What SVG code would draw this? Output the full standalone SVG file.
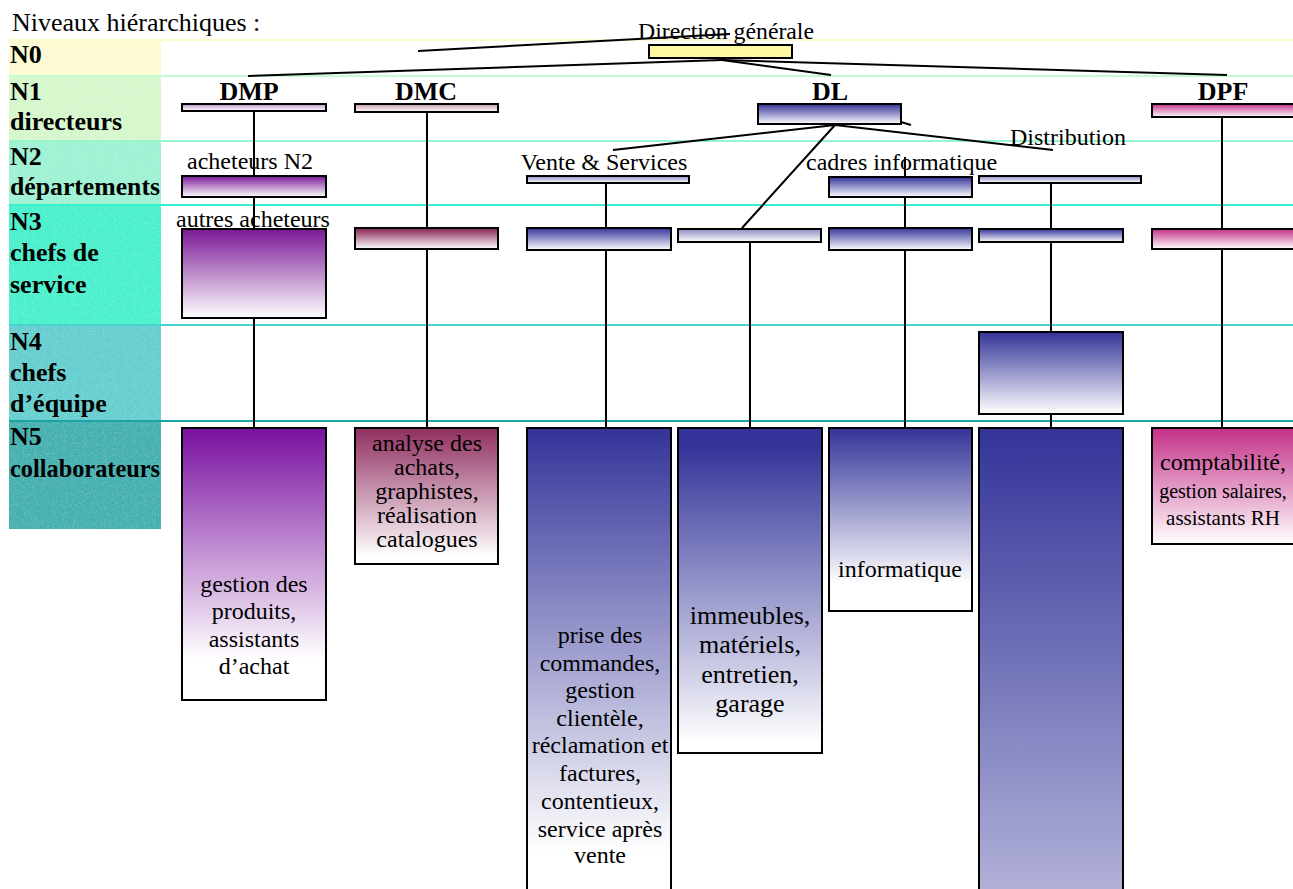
<svg xmlns="http://www.w3.org/2000/svg" width="1293" height="889" viewBox="0 0 1293 889">
<defs>
<linearGradient id="gPurple" x1="0" y1="0" x2="0" y2="1"><stop offset="0" stop-color="#7a1896"/><stop offset="1" stop-color="#ffffff"/></linearGradient>
<linearGradient id="gPurpleN5" x1="0" y1="0" x2="0" y2="1"><stop offset="0" stop-color="#7a10a0"/><stop offset="0.85" stop-color="#ffffff"/></linearGradient>
<linearGradient id="gPalePurple" x1="0" y1="0" x2="0" y2="1"><stop offset="0" stop-color="#b898cc"/><stop offset="1" stop-color="#ffffff"/></linearGradient>
<linearGradient id="gPalePink" x1="0" y1="0" x2="0" y2="1"><stop offset="0" stop-color="#c89aa8"/><stop offset="1" stop-color="#ffffff"/></linearGradient>
<linearGradient id="gMaroon" x1="0" y1="0" x2="0" y2="1"><stop offset="0" stop-color="#842050"/><stop offset="1" stop-color="#ffffff"/></linearGradient>
<linearGradient id="gMaroonN5" x1="0" y1="0" x2="0" y2="1"><stop offset="0" stop-color="#902e60"/><stop offset="0.95" stop-color="#ffffff"/></linearGradient>
<linearGradient id="gBlue" x1="0" y1="0" x2="0" y2="1"><stop offset="0" stop-color="#333399"/><stop offset="1" stop-color="#ffffff"/></linearGradient>
<linearGradient id="gPaleBlue" x1="0" y1="0" x2="0" y2="1"><stop offset="0" stop-color="#8c8cc4"/><stop offset="1" stop-color="#ffffff"/></linearGradient>
<linearGradient id="gBlueVente" x1="0" y1="0" x2="0" y2="1"><stop offset="0" stop-color="#333399"/><stop offset="0.9" stop-color="#ffffff"/></linearGradient>
<linearGradient id="gBlueMat" x1="0" y1="0" x2="0" y2="1"><stop offset="0" stop-color="#333399"/><stop offset="0.05" stop-color="#333399"/><stop offset="0.97" stop-color="#ffffff"/></linearGradient>
<linearGradient id="gBlueInfo" x1="0" y1="0" x2="0" y2="1"><stop offset="0" stop-color="#333399"/><stop offset="0.85" stop-color="#ffffff"/></linearGradient>
<linearGradient id="gBlueDist" gradientUnits="userSpaceOnUse" x1="0" y1="428" x2="0" y2="1180"><stop offset="0" stop-color="#333399"/><stop offset="1" stop-color="#ffffff"/></linearGradient>
<linearGradient id="gPink" x1="0" y1="0" x2="0" y2="1"><stop offset="0" stop-color="#c43088"/><stop offset="1" stop-color="#ffffff"/></linearGradient>
<filter id="speckle" x="0" y="0" width="1" height="1" filterUnits="objectBoundingBox">
<feTurbulence type="fractalNoise" baseFrequency="1.1" numOctaves="1" seed="4" result="n"/>
<feColorMatrix in="n" type="matrix" values="0 0 0 0 1  0 0 0 0 1  0 0 0 0 1  0 0 0 3 -1.5"/>
</filter>
<style>
.box{stroke:#000;stroke-width:2}
.con{stroke:#000;stroke-width:2;fill:none}
.t{font-family:"Liberation Serif","Times New Roman",serif;font-size:24px;fill:#000}
.tc{font-family:"Liberation Serif","Times New Roman",serif;font-size:24px;fill:#000;text-anchor:middle}
.big{font-size:26px}
.b{font-family:"Liberation Serif","Times New Roman",serif;font-size:26px;font-weight:bold;fill:#000}
.bc{font-family:"Liberation Serif","Times New Roman",serif;font-size:26px;font-weight:bold;fill:#000;text-anchor:middle}
</style>
</defs>
<rect width="1293" height="889" fill="#ffffff"/>

<g id="levels">
<rect x="9" y="40" width="152" height="36" fill="#fdfbd4"/>
<rect x="9" y="76" width="152" height="65" fill="#d6f7cc"/>
<rect x="9" y="141" width="152" height="64" fill="#9ef1d2"/>
<rect x="9" y="205" width="152" height="120" fill="#4af0cc"/>
<rect x="9" y="325" width="152" height="96" fill="#66cece"/>
<rect x="9" y="421" width="152" height="108" fill="#46b0b0"/>
<rect x="9" y="76" width="152" height="453" fill="#ffffff" filter="url(#speckle)" opacity="0.3"/>
<line x1="9" y1="40" x2="1293" y2="40" stroke="#fffacd" stroke-width="2"/>
<line x1="9" y1="76" x2="1293" y2="76" stroke="#c2fbd6" stroke-width="2"/>
<line x1="9" y1="141" x2="1293" y2="141" stroke="#98f6ce" stroke-width="2"/>
<line x1="9" y1="205" x2="1293" y2="205" stroke="#34f0d0" stroke-width="2"/>
<line x1="9" y1="325" x2="1293" y2="325" stroke="#48d2d2" stroke-width="2"/>
<line x1="9" y1="421" x2="1293" y2="421" stroke="#1aa4a4" stroke-width="2"/>
<text class="t big" x="12" y="31">Niveaux hiérarchiques :</text>
<text class="b" x="10" y="63">N0</text>
<text class="b" x="10" y="100">N1</text>
<text class="b" x="10" y="130">directeurs</text>
<text class="b" x="10" y="165">N2</text>
<text class="b" x="10" y="195" textLength="150" lengthAdjust="spacingAndGlyphs">départements</text>
<text class="b" x="10" y="230">N3</text>
<text class="b" x="10" y="261">chefs de</text>
<text class="b" x="10" y="293">service</text>
<text class="b" x="10" y="350">N4</text>
<text class="b" x="10" y="381">chefs</text>
<text class="b" x="10" y="412">d’équipe</text>
<text class="b" x="10" y="445">N5</text>
<text class="b" x="10" y="477" textLength="150" lengthAdjust="spacingAndGlyphs">collaborateurs</text>
</g>

<g id="connectors">
<line class="con" x1="418" y1="51" x2="730" y2="34"/>
<line class="con" x1="722" y1="60" x2="248" y2="76"/>
<line class="con" x1="722" y1="60" x2="831" y2="75"/>
<line class="con" x1="722" y1="60" x2="1227" y2="75"/>
<line class="con" x1="901" y1="122" x2="911" y2="125"/>
<line class="con" x1="835" y1="125" x2="613" y2="150"/>
<line class="con" x1="835" y1="125" x2="742" y2="228"/>
<line class="con" x1="835" y1="125" x2="1053" y2="150"/>
<line class="con" x1="254" y1="111" x2="254" y2="428"/>
<line class="con" x1="427" y1="112" x2="427" y2="428"/>
<line class="con" x1="606" y1="184" x2="606" y2="428"/>
<line class="con" x1="750" y1="243" x2="750" y2="428"/>
<line class="con" x1="905" y1="157" x2="905" y2="428"/>
<line class="con" x1="1051" y1="184" x2="1051" y2="428"/>
<line class="con" x1="1222" y1="118" x2="1222" y2="428"/>
</g>

<g id="direction-generale">
<rect class="box" x="649" y="45" width="143" height="13" fill="#fffaa0"/>
<text class="t" x="638" y="39" textLength="176" lengthAdjust="spacingAndGlyphs">Direction générale</text>
</g>

<g id="dmp">
<rect class="box" x="182" y="104" width="144" height="7" fill="url(#gPalePurple)"/>
<text class="bc" x="249" y="100">DMP</text>
</g>
<g id="dmc">
<rect class="box" x="355" y="104" width="143" height="8" fill="url(#gPalePink)"/>
<text class="bc" x="426" y="100">DMC</text>
</g>
<g id="dl">
<rect class="box" x="758" y="104" width="143" height="20" fill="url(#gBlue)"/>
<text class="bc" x="830" y="100">DL</text>
</g>
<g id="dpf">
<rect class="box" x="1152" y="104" width="145" height="13" fill="url(#gPink)"/>
<text class="bc" x="1223" y="100">DPF</text>
</g>

<g id="acheteurs-n2">
<rect class="box" x="182" y="176" width="144" height="21" fill="url(#gPurple)"/>
<text class="tc" x="250" y="169">acheteurs N2</text>
</g>
<g id="vente-services">
<rect class="box" x="527" y="176" width="162" height="7" fill="url(#gPaleBlue)"/>
<text class="tc" x="604" y="170">Vente &amp; Services</text>
</g>
<g id="cadres-informatique">
<rect class="box" x="829" y="177" width="143" height="20" fill="url(#gBlue)"/>
<text class="t" x="806" y="170">cadres informatique</text>
</g>
<g id="distribution">
<rect class="box" x="979" y="176" width="162" height="7" fill="url(#gPaleBlue)"/>
<text class="t" x="1010" y="145">Distribution</text>
</g>

<g id="autres-acheteurs">
<rect class="box" x="182" y="229" width="144" height="89" fill="url(#gPurple)"/>
<text class="tc" x="253" y="227">autres acheteurs</text>
</g>
<g id="dmc-n3"><rect class="box" x="355" y="228" width="143" height="21" fill="url(#gMaroon)"/></g>
<g id="vente-n3"><rect class="box" x="527" y="228" width="144" height="22" fill="url(#gBlue)"/></g>
<g id="logistique-n3"><rect class="box" x="678" y="229" width="143" height="13" fill="url(#gPaleBlue)"/></g>
<g id="info-n3"><rect class="box" x="829" y="228" width="143" height="22" fill="url(#gBlue)"/></g>
<g id="distribution-n3"><rect class="box" x="979" y="229" width="144" height="13" fill="url(#gBlue)"/></g>
<g id="dpf-n3"><rect class="box" x="1152" y="229" width="145" height="20" fill="url(#gPink)"/></g>

<g id="distribution-n4"><rect class="box" x="979" y="332" width="144" height="82" fill="url(#gBlue)"/></g>

<g id="dmp-n5">
<rect class="box" x="182" y="428" width="144" height="272" fill="url(#gPurpleN5)"/>
<text class="tc" x="254"><tspan x="254" y="592">gestion des</tspan><tspan x="254" y="619">produits,</tspan><tspan x="254" y="647">assistants</tspan><tspan x="254" y="674">d’achat</tspan></text>
</g>
<g id="dmc-n5">
<rect class="box" x="355" y="428" width="143" height="136" fill="url(#gMaroonN5)"/>
<text class="tc" x="427"><tspan x="427" y="451">analyse des</tspan><tspan x="427" y="475">achats,</tspan><tspan x="427" y="499">graphistes,</tspan><tspan x="427" y="523">réalisation</tspan><tspan x="427" y="547">catalogues</tspan></text>
</g>
<g id="vente-n5">
<rect class="box" x="527" y="428" width="144" height="470" fill="url(#gBlueVente)"/>
<text class="tc" x="600"><tspan x="600" y="643">prise des</tspan><tspan x="600" y="671">commandes,</tspan><tspan x="600" y="698">gestion</tspan><tspan x="600" y="726">clientèle,</tspan><tspan x="600" y="753">réclamation et</tspan><tspan x="600" y="781">factures,</tspan><tspan x="600" y="809">contentieux,</tspan><tspan x="600" y="837">service après</tspan><tspan x="600" y="863">vente</tspan></text>
</g>
<g id="logistique-n5">
<rect class="box" x="678" y="428" width="144" height="325" fill="url(#gBlueMat)"/>
<text class="tc big" x="750"><tspan x="750" y="624">immeubles,</tspan><tspan x="750" y="653">matériels,</tspan><tspan x="750" y="683">entretien,</tspan><tspan x="750" y="712">garage</tspan></text>
</g>
<g id="info-n5">
<rect class="box" x="829" y="428" width="143" height="183" fill="url(#gBlueInfo)"/>
<text class="tc" x="900" y="577">informatique</text>
</g>
<g id="distribution-n5">
<rect class="box" x="979" y="428" width="144" height="470" fill="url(#gBlueDist)"/>
</g>
<g id="dpf-n5">
<rect class="box" x="1152" y="428" width="145" height="116" fill="url(#gPink)"/>
<text class="tc" x="1223" y="470">comptabilité,</text>
<text class="tc" x="1223" y="498" style="font-size:20px">gestion salaires,</text>
<text class="tc" x="1223" y="525" style="font-size:21px">assistants RH</text>
</g>
</svg>
